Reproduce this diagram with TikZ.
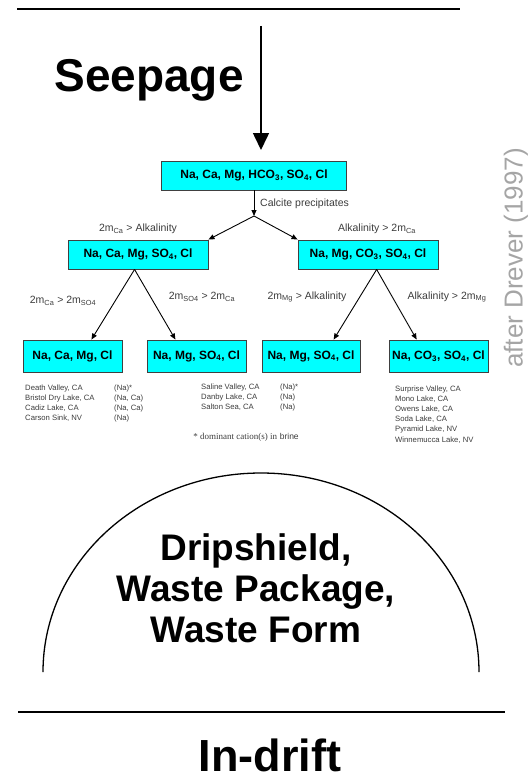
\documentclass[tikz,border=0pt]{standalone}
\usepackage{fontspec}
\setmainfont{Liberation Sans}
\newfontfamily\timesfont{Liberation Serif}
\usetikzlibrary{arrows.meta}
\definecolor{boxcyan}{RGB}{0,255,255}
\definecolor{labgray}{RGB}{60,60,60}
\definecolor{notegray}{RGB}{165,165,165}
\tikzset{
  brine/.style={draw=black!75,line width=0.9pt,fill=boxcyan,inner sep=0pt,
    font=\fontsize{12}{12}\selectfont\bfseries},
  cond/.style={text=labgray,font=\fontsize{10.5}{10.5}\selectfont,inner sep=1pt},
  lakes/.style={anchor=base west,align=left,inner sep=0pt,text=labgray,
    font=\fontsize{7.7}{10.2}\selectfont},
  flow/.style={line width=0.9pt,-{Triangle[length=6pt,width=5pt]}}
}
\begin{document}
\begin{tikzpicture}[x=1pt,y=1pt,yscale=-1,xscale=1]
\useasboundingbox (0,0) rectangle (529,784);

%Straight Lines
\draw [line width=1.5pt] (17,9) -- (460,9) ;
%Straight Lines
\draw [line width=1.5pt] (18,712) -- (505,712) ;

% Seepage arrow
\coordinate (seeptop) at (261,26);
\coordinate (seepend) at (261,150);
\draw [line width=1.6pt,-{Triangle[length=17pt,width=16pt]}] (seeptop) -- (seepend) ;
% Text Node
\node [anchor=base,inner sep=0pt,font=\fontsize{46}{46}\selectfont\bfseries] (seep) at (149,92) {Seepage};

% Brine boxes
\node [brine,minimum width=185pt,minimum height=29pt] (top) at (254,175.5) {Na, Ca, Mg, HCO\textsubscript{3}, SO\textsubscript{4}, Cl};
\node [brine,minimum width=140pt,minimum height=29pt] (lbox) at (138,254.5) {Na, Ca, Mg, SO\textsubscript{4}, Cl};
\node [brine,minimum width=140pt,minimum height=29pt] (rbox) at (368,254.5) {Na, Mg, CO\textsubscript{3}, SO\textsubscript{4}, Cl};
\node [brine,minimum width=99pt,minimum height=32pt] (na1) at (72.5,356) {Na, Ca, Mg, Cl};
\node [brine,minimum width=99pt,minimum height=32pt] (na2) at (196.5,356) {Na, Mg, SO\textsubscript{4}, Cl};
\node [brine,minimum width=98pt,minimum height=32pt] (na3) at (311,356) {Na, Mg, SO\textsubscript{4}, Cl};
\node [brine,minimum width=99pt,minimum height=32pt] (na4) at (438.5,356) {Na, CO\textsubscript{3}, SO\textsubscript{4}, Cl};

% Connections
\coordinate (split) at (254,216);
\draw [flow] (top.south) -- (split) ;
\draw [flow] (split) -- (lbox.north east) ;
\draw [flow] (split) -- (rbox.north west) ;
\draw [flow] (lbox.-103) -- (na1.41) ;
\draw [flow] (lbox.-103) -- (na2.142) ;
\draw [flow] (rbox.-60) -- (na3.36) ;
\draw [flow] (rbox.-60) -- (na4.143) ;

% Text Node
\node [cond,anchor=west] (calc) at (259,204) {Calcite precipitates};
\node [cond] (c1) at (138,229) {2m\textsubscript{Ca} > Alkalinity};
\node [cond] (c2) at (377,229) {Alkalinity > 2m\textsubscript{Ca}};
\node [cond] (c3) at (63,301) {2m\textsubscript{Ca} > 2m\textsubscript{SO4}};
\node [cond] (c4) at (202,297) {2m\textsubscript{SO4} > 2m\textsubscript{Ca}};
\node [cond] (c5) at (307,297) {2m\textsubscript{Mg} > Alkalinity};
\node [cond] (c6) at (447,297) {Alkalinity > 2m\textsubscript{Mg}};

% Lake lists (base = last line)
\node [lakes] (l1) at (25,420.6) {Death Valley, CA\\Bristol Dry Lake, CA\\Cadiz Lake, CA\\Carson Sink, NV};
\node [lakes] (l1c) at (114,420.6) {(Na)*\\(Na, Ca)\\(Na, Ca)\\(Na)};
\node [lakes] (l2) at (201,409.4) {Saline Valley, CA\\Danby Lake, CA\\Salton Sea, CA};
\node [lakes] (l2c) at (280,409.4) {(Na)*\\(Na)\\(Na)};
\node [lakes] (l3) at (395,442) {Surprise Valley, CA\\Mono Lake, CA\\Owens Lake, CA\\Soda Lake, CA\\Pyramid Lake, NV\\Winnemucca Lake, NV};
\node [text=labgray,inner sep=0pt] (note) at (246,437) {{\timesfont\fontsize{9}{9}\selectfont * dominant cation(s) in} {\fontsize{8.5}{9}\selectfont brine}};

% Source note
\node [rotate=90,text=notegray,inner sep=0pt,font=\fontsize{26}{26}\selectfont] (drever) at (516,258) {after Drever (1997)};

% Drip shield arc
\draw [line width=1.3pt] (43,672) .. controls (43,562) and (140.6,473) .. (261,473)
  .. controls (381.4,473) and (479,562) .. (479,672) ;
% Text Node
\node [align=center,inner sep=0pt,font=\fontsize{37}{41}\selectfont\bfseries] (drip) at (256,588) {Dripshield,\\Waste Package,\\Waste Form};
% Text Node
\node [inner sep=0pt,font=\fontsize{45}{45}\selectfont\bfseries] (indrift) at (270,755) {In-drift};

\end{tikzpicture}
\end{document}
